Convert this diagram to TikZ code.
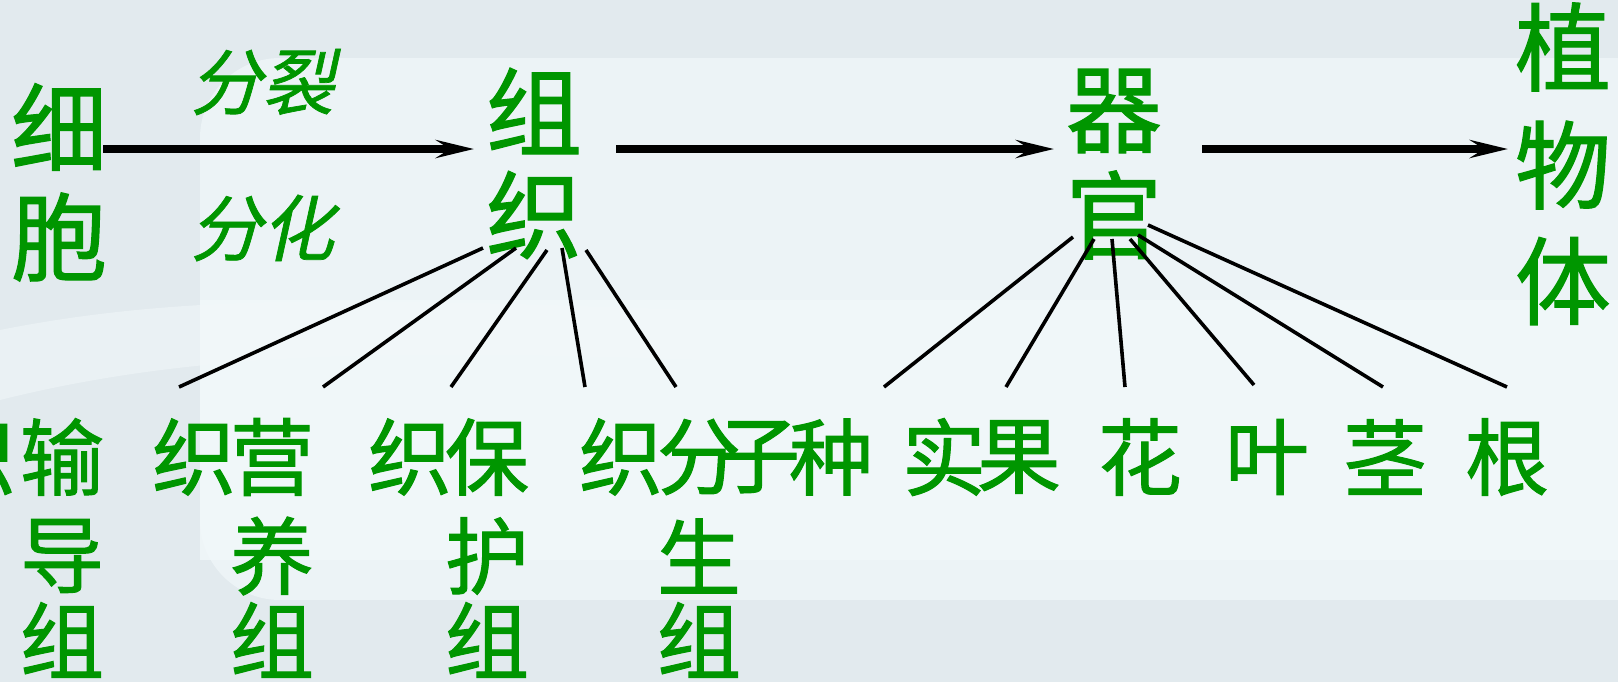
\documentclass[tikz,border=0pt]{standalone}
\usepackage{fontspec}
\newfontfamily\cjk[FakeBold=1.2]{Noto Sans CJK SC}
\newfontfamily\cjkit[FakeSlant=0.22,FakeBold=1]{Noto Sans CJK SC}
\usetikzlibrary{arrows.meta}
\definecolor{tg}{RGB}{0,150,0}
\definecolor{bgA}{RGB}{226,234,238}
\definecolor{bgB}{RGB}{236,243,246}
\definecolor{bgC}{RGB}{242,248,250}
\begin{document}
\begin{tikzpicture}[x=0.5pt,y=-0.5pt,
  big/.style={text=tg,font=\cjk\fontsize{48}{48}\selectfont,inner sep=0pt},
  small/.style={text=tg,font=\cjk\fontsize{42}{42}\selectfont,inner sep=0pt},
  slant/.style={text=tg,font=\cjkit\fontsize{36}{36}\selectfont,inner sep=0pt},
  flow/.style={line width=4.2pt,-{Stealth[length=19pt,width=9pt,inset=7pt]}},
  branch/.style={line width=1.8pt}]
\useasboundingbox (0,0) rectangle (1618,682);
% background
\fill[bgA] (0,0) rectangle (1618,682);
\fill[bgB,rounded corners=40pt] (200,58) rectangle (1700,600);
\fill[bgC,opacity=0.8] (200,300) -- (1618,300) -- (1618,560) -- (200,560) -- cycle;
\fill[bgC,opacity=0.5] (0,330) .. controls (200,290) and (400,300) .. (700,310) -- (700,360) .. controls (400,350) and (200,350) .. (0,400) -- cycle;
\fill[bgA,opacity=0.6] (0,600) rectangle (1618,682);
% top row
\node[big] (xi) at (59,127) {细};
\node[big] (bao) at (59,237) {胞};
\node[slant] (fenlie) at (262,82) {分裂};
\node[slant] (fenhua) at (262,228) {分化};
\node[big] (zu) at (534,111) {组};
\node[big] (zhi) at (534,215) {织};
\node[big] (qi) at (1114,111) {器};
\node[big] (guan) at (1114,215) {官};
\node[big] (zhiw) at (1563,47) {植};
\node[big] (wu) at (1563,165) {物};
\node[big] (ti) at (1563,281) {体};
% arrow anchor coordinates
\coordinate (a1s) at (103,149);
\coordinate (a1e) at (474,149);
\coordinate (a2s) at (616,149);
\coordinate (a2e) at (1054,149);
\coordinate (a3s) at (1202,149);
\coordinate (a3e) at (1508,149);
\draw[flow] (a1s) -- (a1e);
\draw[flow] (a2s) -- (a2e);
\draw[flow] (a3s) -- (a3e);
% bottom-left: tissues
\node[small] (t1a) at (-26,457) {织};
\node[small] (t1b) at (62,457) {输};
\node[small] (t1c) at (62,556) {导};
\node[small] (t1d) at (62,640) {组};
\node[small] (t2a) at (194,457) {织};
\node[small] (t2b) at (272,457) {营};
\node[small] (t2c) at (272,556) {养};
\node[small] (t2d) at (272,640) {组};
\node[small] (t3a) at (410,457) {织};
\node[small] (t3b) at (487,457) {保};
\node[small] (t3c) at (487,556) {护};
\node[small] (t3d) at (487,640) {组};
\node[small] (t4a) at (621,457) {织};
\node[small] (t4b) at (699,457) {分};
\node[small] (t4c) at (699,556) {生};
\node[small] (t4d) at (699,640) {组};
% bottom-right: organs
\node[small] (o1a) at (758,457) {子};
\node[small] (o1b) at (831,457) {种};
\node[small] (o2a) at (944,457) {实};
\node[small] (o2b) at (1019,457) {果};
\node[small] (o3) at (1140,457) {花};
\node[small] (o4) at (1267,457) {叶};
\node[small] (o5) at (1385,457) {茎};
\node[small] (o6) at (1507,457) {根};
% branch ends
\coordinate (z1) at (483,248); \coordinate (e1) at (179,387);
\coordinate (z2) at (516,248); \coordinate (e2) at (323,387);
\coordinate (z3) at (547,250); \coordinate (e3) at (451,387);
\coordinate (z4) at (562,248); \coordinate (e4) at (585,387);
\coordinate (z5) at (586,250); \coordinate (e5) at (676,387);
\draw[branch] (z1) -- (e1);
\draw[branch] (z2) -- (e2);
\draw[branch] (z3) -- (e3);
\draw[branch] (z4) -- (e4);
\draw[branch] (z5) -- (e5);
\coordinate (g1) at (1073,237); \coordinate (f1) at (884,387);
\coordinate (g2) at (1094,239); \coordinate (f2) at (1006,387);
\coordinate (g3) at (1112,239); \coordinate (f3) at (1125,387);
\coordinate (g4) at (1130,239); \coordinate (f4) at (1254,385);
\coordinate (g5) at (1138,235); \coordinate (f5) at (1383,387);
\coordinate (g6) at (1148,225); \coordinate (f6) at (1507,387);
\draw[branch] (g1) -- (f1);
\draw[branch] (g2) -- (f2);
\draw[branch] (g3) -- (f3);
\draw[branch] (g4) -- (f4);
\draw[branch] (g5) -- (f5);
\draw[branch] (g6) -- (f6);
\end{tikzpicture}
\end{document}
